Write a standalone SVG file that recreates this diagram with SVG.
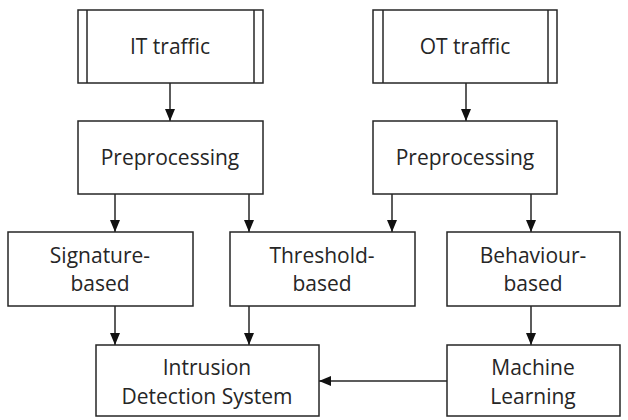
<svg xmlns="http://www.w3.org/2000/svg" width="628" height="420" viewBox="0 0 628 420">
<style>
.box{fill:#fff;stroke:#262626;stroke-width:1.5}
.ln{stroke:#262626;stroke-width:1.5;fill:none}
text{font-family:"Open Sans","Liberation Sans",sans-serif;font-size:21px;fill:#262626;text-anchor:middle;dominant-baseline:central}
</style>
<defs>
<marker id="ah" viewBox="0 0 12 10" refX="12" refY="5" markerWidth="12" markerHeight="10" markerUnits="userSpaceOnUse" orient="auto">
<path d="M0,0 L12,5 L0,10 z" fill="#111"/>
</marker>
</defs>
<rect width="628" height="420" fill="#fff"/>
<g id="connectors">
<line class="ln" x1="170" y1="83" x2="170" y2="121" marker-end="url(#ah)"/>
<line class="ln" x1="466" y1="83" x2="466" y2="121" marker-end="url(#ah)"/>
<line class="ln" x1="115" y1="194" x2="115" y2="232" marker-end="url(#ah)"/>
<line class="ln" x1="249" y1="194" x2="249" y2="232" marker-end="url(#ah)"/>
<line class="ln" x1="392" y1="194" x2="392" y2="232" marker-end="url(#ah)"/>
<line class="ln" x1="531" y1="194" x2="531" y2="232" marker-end="url(#ah)"/>
<line class="ln" x1="115" y1="306" x2="115" y2="345" marker-end="url(#ah)"/>
<line class="ln" x1="249" y1="306" x2="249" y2="345" marker-end="url(#ah)"/>
<line class="ln" x1="531" y1="306" x2="531" y2="345" marker-end="url(#ah)"/>
<line class="ln" x1="447" y1="381" x2="319" y2="381" marker-end="url(#ah)"/>
</g>
<g id="it-traffic">
<rect class="box" x="78" y="10" width="185" height="73"/>
<line class="ln" x1="87" y1="10" x2="87" y2="83"/>
<line class="ln" x1="254" y1="10" x2="254" y2="83"/>
<text x="170" y="46">IT traffic</text>
</g>
<g id="ot-traffic">
<rect class="box" x="373" y="10" width="184" height="73"/>
<line class="ln" x1="383" y1="10" x2="383" y2="83"/>
<line class="ln" x1="548" y1="10" x2="548" y2="83"/>
<text x="465" y="46">OT traffic</text>
</g>
<g id="preproc-it">
<rect class="box" x="78" y="121" width="185" height="73"/>
<text x="170" y="157">Preprocessing</text>
</g>
<g id="preproc-ot">
<rect class="box" x="373" y="121" width="184" height="73"/>
<text x="465" y="157">Preprocessing</text>
</g>
<g id="signature">
<rect class="box" x="8" y="232" width="185" height="74"/>
<text x="100" y="255">Signature-</text>
<text x="100" y="283">based</text>
</g>
<g id="threshold">
<rect class="box" x="230" y="232" width="185" height="74"/>
<text x="322" y="255">Threshold-</text>
<text x="322" y="283">based</text>
</g>
<g id="behaviour">
<rect class="box" x="447" y="232" width="173" height="74"/>
<text x="533" y="255">Behaviour-</text>
<text x="533" y="283">based</text>
</g>
<g id="ids">
<rect class="box" x="96" y="345" width="223" height="71"/>
<text x="207" y="367">Intrusion</text>
<text x="207" y="396">Detection System</text>
</g>
<g id="ml">
<rect class="box" x="447" y="345" width="173" height="71"/>
<text x="533" y="367">Machine</text>
<text x="533" y="396">Learning</text>
</g>
</svg>
